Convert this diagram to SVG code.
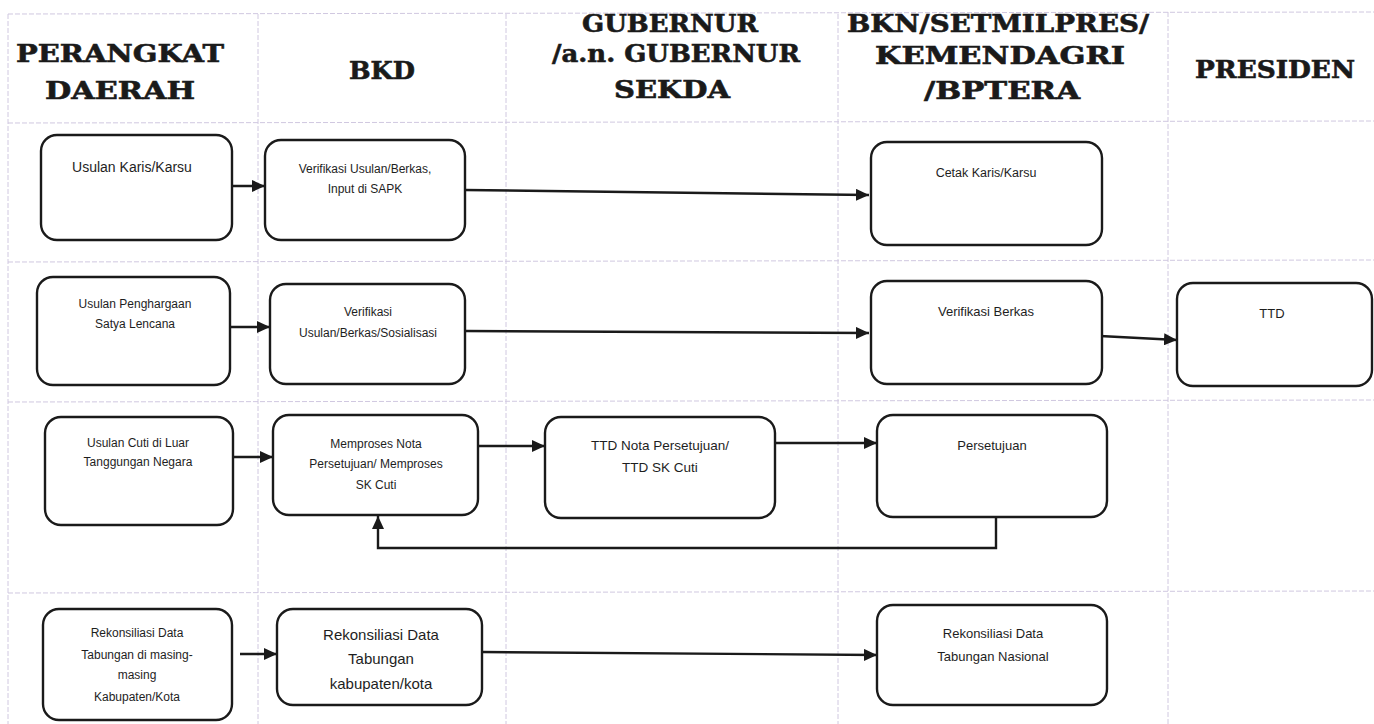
<svg xmlns="http://www.w3.org/2000/svg" width="1374" height="724" viewBox="0 0 1374 724">
<style>
.grid{stroke:#d0c8e0;stroke-width:1;stroke-dasharray:5 2;fill:none}
.box{fill:#fff;stroke:#1a1a1a;stroke-width:2.4}
.hd{font-family:"DejaVu Serif","Liberation Serif",serif;font-weight:bold;font-size:24px;fill:#1a1a1a;stroke:#1a1a1a;stroke-width:0.6;text-anchor:middle}
.t{font-family:"Liberation Sans",Arial,sans-serif;fill:#1e1e1e;text-anchor:middle}
.c{stroke:#1a1a1a;stroke-width:2.4;fill:none}
</style>
<defs>
<marker id="ah" viewBox="0 0 10 10" refX="10" refY="5" markerWidth="13" markerHeight="12" markerUnits="userSpaceOnUse" orient="auto" preserveAspectRatio="none">
<path d="M0,0 L10,5 L0,10 z" fill="#1a1a1a"/>
</marker>
</defs>
<rect width="1374" height="724" fill="#fff"/>
<g id="grid">
<line class="grid" x1="8" y1="14" x2="1374" y2="12"/>
<line class="grid" x1="8" y1="123" x2="1374" y2="121"/>
<line class="grid" x1="8" y1="262" x2="1374" y2="260"/>
<line class="grid" x1="8" y1="402" x2="1374" y2="400"/>
<line class="grid" x1="8" y1="593" x2="1374" y2="591"/>
<line class="grid" x1="8" y1="14" x2="8" y2="724"/>
<line class="grid" x1="258" y1="14" x2="258" y2="724"/>
<line class="grid" x1="506" y1="14" x2="506" y2="724"/>
<line class="grid" x1="838" y1="14" x2="838" y2="724"/>
<line class="grid" x1="1168" y1="12" x2="1168" y2="724"/>
</g>
<g id="headers">
<text class="hd" x="120" y="62" textLength="208" lengthAdjust="spacingAndGlyphs">PERANGKAT</text>
<text class="hd" x="120" y="99" textLength="150" lengthAdjust="spacingAndGlyphs">DAERAH</text>
<text class="hd" x="382" y="79" textLength="66" lengthAdjust="spacingAndGlyphs">BKD</text>
<text class="hd" x="670" y="32" textLength="176" lengthAdjust="spacingAndGlyphs">GUBERNUR</text>
<text class="hd" x="676" y="62" textLength="248" lengthAdjust="spacingAndGlyphs">/a.n. GUBERNUR</text>
<text class="hd" x="672" y="98" textLength="116" lengthAdjust="spacingAndGlyphs">SEKDA</text>
<text class="hd" x="998" y="32" textLength="302" lengthAdjust="spacingAndGlyphs">BKN/SETMILPRES/</text>
<text class="hd" x="1000" y="64" textLength="250" lengthAdjust="spacingAndGlyphs">KEMENDAGRI</text>
<text class="hd" x="1002" y="99" textLength="156" lengthAdjust="spacingAndGlyphs">/BPTERA</text>
<text class="hd" x="1275" y="78" textLength="160" lengthAdjust="spacingAndGlyphs">PRESIDEN</text>
</g>
<g id="connectors">
<line class="c" x1="232" y1="186" x2="265" y2="186" marker-end="url(#ah)"/>
<line class="c" x1="465" y1="190" x2="869" y2="195" marker-end="url(#ah)"/>
<line class="c" x1="230" y1="327" x2="270" y2="327" marker-end="url(#ah)"/>
<line class="c" x1="465" y1="331" x2="869" y2="333" marker-end="url(#ah)"/>
<line class="c" x1="1100" y1="336" x2="1177" y2="340" marker-end="url(#ah)"/>
<line class="c" x1="233" y1="457" x2="273" y2="457" marker-end="url(#ah)"/>
<line class="c" x1="478" y1="446" x2="545" y2="446" marker-end="url(#ah)"/>
<line class="c" x1="775" y1="443" x2="877" y2="443" marker-end="url(#ah)"/>
<polyline class="c" points="996,517 996,548 378,548 378,516" marker-end="url(#ah)"/>
<line class="c" x1="240" y1="654" x2="277" y2="654" marker-end="url(#ah)"/>
<line class="c" x1="482" y1="652" x2="877" y2="655" marker-end="url(#ah)"/>
</g>
<g id="n1"><rect class="box" x="41" y="135" width="191" height="105" rx="16"/>
<text class="t" x="132" y="172" font-size="14">Usulan Karis/Karsu</text></g>
<g id="n2"><rect class="box" x="265" y="140" width="200" height="100" rx="16"/>
<text class="t" x="365" y="173" font-size="12">Verifikasi Usulan/Berkas,</text>
<text class="t" x="365" y="193" font-size="12">Input di SAPK</text></g>
<g id="n3"><rect class="box" x="871" y="142" width="231" height="103" rx="16"/>
<text class="t" x="986" y="177" font-size="12.5">Cetak Karis/Karsu</text></g>
<g id="n4"><rect class="box" x="37" y="277" width="193" height="108" rx="16"/>
<text class="t" x="135" y="308" font-size="12">Usulan Penghargaan</text>
<text class="t" x="135" y="328" font-size="12">Satya Lencana</text></g>
<g id="n5"><rect class="box" x="270" y="284" width="195" height="100" rx="16"/>
<text class="t" x="368" y="316" font-size="12">Verifikasi</text>
<text class="t" x="368" y="337" font-size="12">Usulan/Berkas/Sosialisasi</text></g>
<g id="n6"><rect class="box" x="871" y="281" width="231" height="103" rx="16"/>
<text class="t" x="986" y="316" font-size="13">Verifikasi Berkas</text></g>
<g id="n7"><rect class="box" x="1177" y="283" width="195" height="103" rx="16"/>
<text class="t" x="1272" y="318" font-size="13">TTD</text></g>
<g id="n8"><rect class="box" x="45" y="417" width="188" height="108" rx="16"/>
<text class="t" x="138" y="447" font-size="12">Usulan Cuti di Luar</text>
<text class="t" x="138" y="466" font-size="12">Tanggungan Negara</text></g>
<g id="n9"><rect class="box" x="273" y="415" width="205" height="100" rx="16"/>
<text class="t" x="376" y="448" font-size="12">Memproses Nota</text>
<text class="t" x="376" y="468" font-size="12">Persetujuan/ Memproses</text>
<text class="t" x="376" y="489" font-size="12">SK Cuti</text></g>
<g id="n10"><rect class="box" x="545" y="417" width="230" height="101" rx="16"/>
<text class="t" x="660" y="450" font-size="13.5">TTD Nota Persetujuan/</text>
<text class="t" x="660" y="472" font-size="13.5">TTD SK Cuti</text></g>
<g id="n11"><rect class="box" x="877" y="415" width="230" height="102" rx="16"/>
<text class="t" x="992" y="450" font-size="13">Persetujuan</text></g>
<g id="n12"><rect class="box" x="43" y="609" width="189" height="111" rx="16"/>
<text class="t" x="137" y="637" font-size="12">Rekonsiliasi Data</text>
<text class="t" x="137" y="659" font-size="12">Tabungan di masing-</text>
<text class="t" x="137" y="679" font-size="12">masing</text>
<text class="t" x="137" y="701" font-size="12">Kabupaten/Kota</text></g>
<g id="n13"><rect class="box" x="277" y="609" width="205" height="96" rx="16"/>
<text class="t" x="381" y="640" font-size="15">Rekonsiliasi Data</text>
<text class="t" x="381" y="664" font-size="15">Tabungan</text>
<text class="t" x="381" y="689" font-size="15">kabupaten/kota</text></g>
<g id="n14"><rect class="box" x="877" y="605" width="230" height="100" rx="16"/>
<text class="t" x="993" y="638" font-size="13">Rekonsiliasi Data</text>
<text class="t" x="993" y="661" font-size="13">Tabungan Nasional</text></g>
</svg>
